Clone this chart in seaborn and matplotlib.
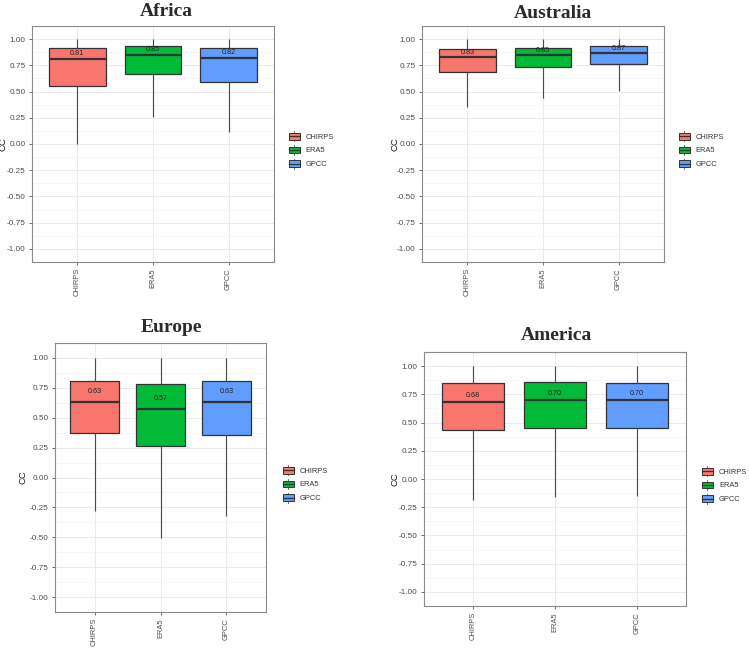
import numpy as np
import pandas as pd
import matplotlib
matplotlib.use("Agg")
import matplotlib.pyplot as plt
import seaborn as sns
from matplotlib.legend_handler import HandlerBase
from matplotlib.patches import Rectangle
from matplotlib.lines import Line2D

# Five-number summaries: [min, Q1, median, Q3, max]
products = ["CHIRPS", "ERA5", "GPCC"]
colors = ["#F8766D", "#00BA38", "#619CFF"]
regions = ["Africa", "Australia", "Europe", "America"]

africa = [[0.00, 0.55, 0.81, 0.92, 1.00],
          [0.26, 0.665, 0.85, 0.93, 1.00],
          [0.11, 0.595, 0.82, 0.915, 1.00]]
australia = [[0.355, 0.69, 0.83, 0.91, 1.00],
             [0.435, 0.73, 0.85, 0.92, 1.00],
             [0.51, 0.76, 0.87, 0.93, 1.00]]
europe = [[-0.28, 0.37, 0.63, 0.805, 1.00],
          [-0.51, 0.265, 0.57, 0.785, 1.00],
          [-0.32, 0.355, 0.63, 0.805, 1.00]]
america = [[-0.19, 0.435, 0.68, 0.85, 1.00],
           [-0.16, 0.45, 0.70, 0.86, 1.00],
           [-0.155, 0.45, 0.70, 0.85, 1.00]]
summaries = [africa, australia, europe, america]

# build a long table (the five values give back exactly these quartiles)
rows = []
for reg, summ in zip(regions, summaries):
    for prod, vals in zip(products, summ):
        for v in vals:
            rows.append((reg, prod, v))
df = pd.DataFrame(rows, columns=["region", "product", "CC"])

W, H = 749, 648
plt.rcParams["axes.unicode_minus"] = False
plt.rcParams["font.family"] = ["Liberation Sans", "DejaVu Sans"]

fig = plt.figure(figsize=(W / 100, H / 100), dpi=100)


class BoxKey(HandlerBase):
    # ggplot-like boxplot legend key
    def create_artists(self, legend, orig, xd, yd, w, h, fontsize, trans):
        x0, y0 = -xd, -yd
        fc = orig.get_facecolor()
        bh = h * 0.7
        by = y0 + (h - bh) / 2
        rect = Rectangle((x0, by), w, bh, facecolor=fc, edgecolor="#333333",
                         lw=0.7, transform=trans)
        cx = x0 + w / 2
        med = Line2D([x0, x0 + w], [y0 + h / 2] * 2, color="#333333", lw=0.9, transform=trans)
        wt = Line2D([cx, cx], [by + bh, y0 + h * 1.05], color="#555555", lw=0.6, transform=trans)
        wb = Line2D([cx, cx], [y0 - h * 0.05, by], color="#555555", lw=0.6, transform=trans)
        return [wt, wb, rect, med]


# panel layout in pixels: left, top, right, bottom
boxes = {"Africa": (32, 26, 274, 262),
         "Australia": (422, 26, 664, 262),
         "Europe": (55, 343, 266, 612),
         "America": (424, 352, 686, 606)}
titles_xy = {"Africa": (166, 16.5), "Australia": (553, 18),
             "Europe": (171, 332), "America": (556, 339.5)}
legend_xy = {"Africa": (289, 150), "Australia": (679, 150),
             "Europe": (283, 484), "America": (702, 485)}
ylabel_x = {"Africa": 8, "Australia": 400, "Europe": 27, "America": 399}
label_off = {"Africa": 3.8, "Australia": 3.1, "Europe": 7.7, "America": 5.0}

for reg, summ in zip(regions, summaries):
    l, t, r, b = boxes[reg]
    ax = fig.add_axes([l / W, 1 - b / H, (r - l) / W, (b - t) / H])
    sub = df[df["region"] == reg]
    ax.set_facecolor("white")
    ax.set_axisbelow(True)
    sns.boxplot(data=sub, x="product", y="CC", hue="product", order=products,
                palette=colors, width=0.75, whis=(0, 100), showfliers=False,
                linecolor="#333333", linewidth=0.9, saturation=1, legend=False,
                whiskerprops=dict(color="#4d4d4d", lw=0.85),
                capprops=dict(lw=0),
                medianprops=dict(color="#333333", lw=1.6), ax=ax)
    ax.set_ylim(-1.1, 1.1)
    ax.set_xlim(-0.6, 2.6)
    yt = np.arange(-1, 1.01, 0.25)
    ax.set_yticks(yt)
    ax.set_yticklabels([f"{v:.2f}" for v in yt])
    ax.set_yticks(np.arange(-1.125, 1.126, 0.25), minor=True)
    ax.grid(True, which="major", color="#EBEBEB", lw=0.7)
    ax.grid(True, which="minor", axis="y", color="#F4F4F4", lw=0.5)
    ax.tick_params(axis="both", which="major", labelcolor="#4D4D4D",
                   color="#333333", length=2.5, width=0.5, pad=2)
    ax.tick_params(axis="y", labelsize=5.9)
    ax.tick_params(axis="x", labelsize=5.4, rotation=90)
    ax.tick_params(axis="y", which="minor", length=0)
    ax.set_xlabel("")
    ax.set_ylabel("CC", fontsize=6.8, color="#1a1a1a")
    ax.yaxis.set_label_coords((ylabel_x[reg] - l) / (r - l), 0.5)
    for s in ax.spines.values():
        s.set_color("#8a8a8a")
        s.set_linewidth(0.8)

    for i, vals in enumerate(summ):
        ax.annotate(f"{vals[2]:.2f}", (i, vals[2]), xytext=(0, label_off[reg]),
                    textcoords="offset points", ha="center", va="center",
                    fontsize=5.2, color="#222222")

    tx, ty = titles_xy[reg]
    fig.text(tx / W, 1 - ty / H, reg, ha="center", va="baseline",
             family="Liberation Serif", fontweight="bold", fontsize=14, color="#2b2b2b")

    handles = [Rectangle((0, 0), 1, 1, facecolor=c) for c in colors]
    lx, ly = legend_xy[reg]
    ax.legend(handles, products, handler_map={Rectangle: BoxKey()},
              loc="center left", bbox_to_anchor=(lx / W, 1 - ly / H),
              bbox_transform=fig.transFigure, frameon=False, fontsize=5.4,
              handlelength=1.45, handleheight=1.5, labelspacing=0.6,
              handletextpad=0.8, borderpad=0, borderaxespad=0,
              labelcolor="#333333")

fig.savefig("out.png", dpi=100)
